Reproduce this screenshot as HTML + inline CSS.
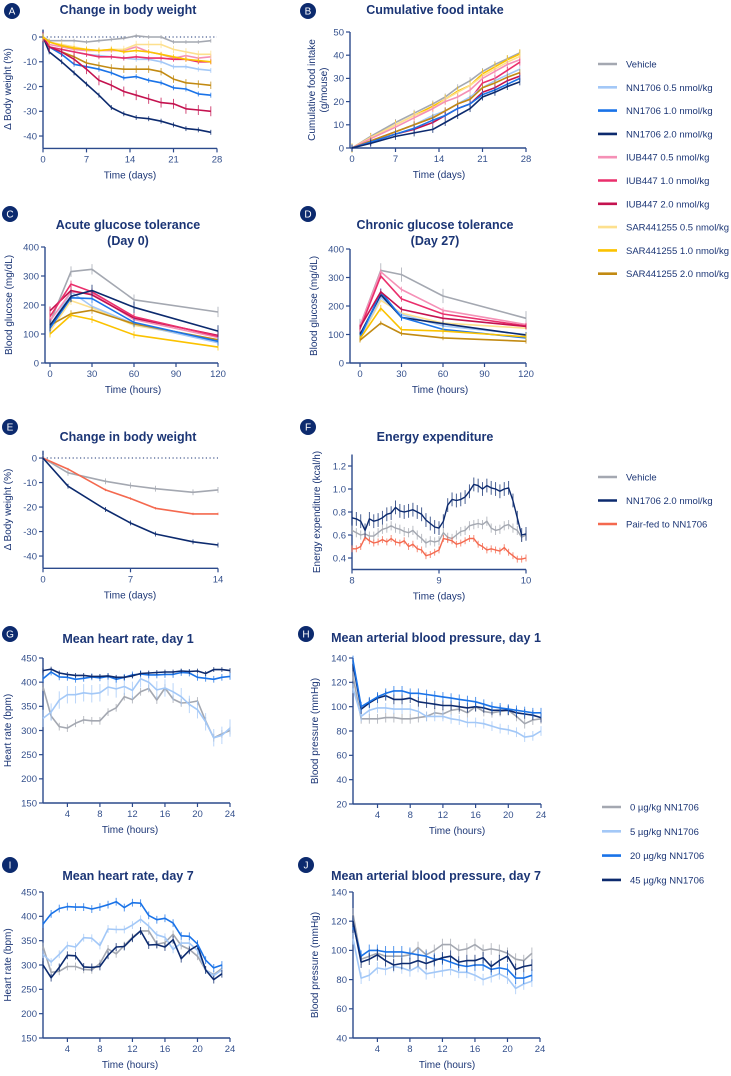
<!DOCTYPE html>
<html><head><meta charset="utf-8"><style>
body{margin:0;background:#fff;}
svg{display:block;font-family:"Liberation Sans",sans-serif;}
.title{font-weight:bold;font-size:12.5px;fill:#1b3575;}
.tick{font-size:9.5px;fill:#34508c;}
.albl{font-size:10px;fill:#1b3575;}
.leg{font-size:9.5px;fill:#1b3575;}
</style></head><body>
<svg id="fig" width="731" height="1076" viewBox="0 0 731 1076"></svg>
<script>
const cVeh='#a4a8b1',cNN05='#a3c8f7',cNN10='#1a73e8',cNN20='#0c2a6e',cI05='#f590b6',cI10='#ea2f6c',cI20='#c4124f',cS05='#fde08e',cS10='#fbc200',cS20='#c28a12',cPair='#f4694f';

const aDays=[0,1,3,5,7,9,11,13,15,17,19,21,23,25,27];
const aVeh=[0,-1.5,-1.5,-1.5,-2,-1.5,-1,-0.5,0.5,0,0,-2,-2,-2,-1.5];
const aNN05=[0,-4,-5,-6,-7,-7.5,-8,-8.5,-9,-9,-10,-12,-12,-13,-13.5];
const aNN10=[0,-4,-7,-11,-12,-13,-14.5,-16.5,-16,-17.5,-18.5,-20.5,-21,-23,-23.5];
const aNN20=[0,-6,-10,-14.5,-19,-23.5,-28.5,-31,-32.5,-33,-34,-35.5,-37,-37.5,-38.5];
const aI05=[0,-3,-4,-5,-5.5,-5.5,-5.5,-5.5,-4,-6,-7,-8.5,-7.5,-8.5,-8];
const aI10=[0,-4,-5,-6,-7,-8,-8,-8.5,-8,-8.5,-8.5,-9,-9,-10,-10];
const aI20=[0,-4,-6,-9,-13,-17.5,-19.5,-22,-23.5,-25,-26.5,-27,-29,-29.5,-30];
const aS05=[0,-2,-3,-4,-5,-5.5,-5,-5,-3,-3,-3,-5,-6,-7,-7];
const aS10=[0,-2,-3.5,-4.5,-5,-5.5,-5,-6,-5.5,-6,-7,-8,-9,-9.5,-10];
const aS20=[0,-4,-6,-8,-10.5,-11.5,-12.5,-13,-13,-13,-14,-17,-18.5,-19,-19.5];
const aTicksX=[0,7,14,21,28];
const aTicksY=[0,-10,-20,-30,-40];

const bDays=[0,3,7,10,13,15,17,19,21,23,25,27];
const bVeh=[0,5,11,15,19,22,26,29,33,36,38.5,41];
const bS10=[0,4.5,10,14,18,21,24.5,27,32,35,38,40.5];
const bS05=[0,4.5,10,14,17,21,24,27,31,34,37,39.5];
const bI05=[0,4,9,13,17,20,22,25,30,33,36,38];
const bI10=[0,3,7,10,13,16,19,21,28,30,33.5,37];
const bNN05=[0,3,7,10,14,16,19,22,26,29,31.5,34];
const bS20=[0,3,7,10,13,16,19,21,26,28,30.5,32.5];
const bI20=[0,2.5,6,8,11,14,17,19,24,26,29,31];
const bNN10=[0,2.5,6,8.5,12,14,17,19,23,25,27.5,30];
const bNN20=[0,2,5,6.5,8,11,14,17,22,24,26.5,28.5];
const bTicksY=[0,10,20,30,40,50];

const gttTimes=[0,15,30,60,120];
const cVehV=[140,315,323,218,176];
const cNN05V=[125,245,195,135,70];
const cNN10V=[120,225,222,140,75];
const cNN20V=[130,230,250,192,110];
const cI05V=[145,245,240,150,88];
const cI10V=[160,272,245,160,92];
const cI20V=[180,250,235,155,95];
const cS05V=[110,215,190,130,80];
const cS10V=[100,165,150,97,55];
const cS20V=[130,170,182,135,80];
const gttTicksX=[0,30,60,90,120];
const gttTicksY=[0,100,200,300,400];

const dVehV=[130,325,310,235,157];
const dNN05V=[90,230,170,130,100];
const dNN10V=[90,250,160,118,88];
const dNN20V=[100,240,160,138,98];
const dI05V=[130,320,258,185,135];
const dI10V=[120,305,225,172,130];
const dI20V=[125,250,188,157,128];
const dS05V=[85,220,175,140,122];
const dS10V=[85,192,117,112,92];
const dS20V=[80,140,103,88,76];

const eDays=[0,2,5,7,9,12,14];
const eVeh=[0,-6,-9.5,-11.2,-12.5,-14,-13];
const ePair=[0,-4.5,-13,-16.5,-20.5,-22.8,-22.8];
const eNN=[0,-11.5,-21,-26.5,-31,-34.2,-35.5];
const eTicksX=[0,7,14];

const fTimes=[8.00,8.05,8.10,8.15,8.20,8.25,8.30,8.35,8.40,8.45,8.50,8.55,8.60,8.65,8.70,8.75,8.80,8.85,8.90,8.95,9.00,9.05,9.10,9.15,9.20,9.25,9.30,9.35,9.40,9.45,9.50,9.55,9.60,9.65,9.70,9.75,9.80,9.85,9.90,9.95,10.00];
const fNN=[0.75,0.74,0.72,0.64,0.74,0.72,0.73,0.75,0.78,0.79,0.84,0.81,0.80,0.81,0.82,0.80,0.78,0.73,0.70,0.67,0.66,0.72,0.86,0.91,0.90,0.91,0.93,0.98,1.04,1.03,1.00,1.03,1.01,1.00,0.98,1.00,1.01,0.90,0.75,0.60,0.61];
const fVeh=[0.64,0.62,0.60,0.61,0.59,0.59,0.62,0.65,0.66,0.68,0.66,0.65,0.63,0.62,0.64,0.60,0.57,0.53,0.55,0.54,0.55,0.62,0.58,0.57,0.60,0.63,0.64,0.68,0.69,0.70,0.69,0.72,0.66,0.64,0.65,0.68,0.69,0.66,0.64,0.58,0.60];
const fPair=[0.48,0.48,0.50,0.58,0.55,0.53,0.54,0.56,0.54,0.57,0.54,0.53,0.55,0.50,0.52,0.48,0.47,0.42,0.43,0.45,0.47,0.57,0.56,0.55,0.52,0.53,0.55,0.57,0.57,0.52,0.50,0.47,0.48,0.47,0.46,0.49,0.45,0.42,0.39,0.39,0.40];
const fTicksX=[8,9,10];
const fTicksY=[0.4,0.6,0.8,1.0,1.2];

const hours24=[1,2,3,4,5,6,7,8,9,10,11,12,13,14,15,16,17,18,19,20,21,22,23,24];
const gNavy=[424,427,419,416,414,414,412,412,413,410,410,413,418,419,420,421,421,423,422,423,418,426,426,424];
const gBlue=[407,421,411,410,406,408,411,409,412,406,410,415,417,415,415,416,416,420,419,410,408,406,410,412];
const gLight=[325,338,363,374,374,378,376,378,390,386,391,383,407,400,384,388,380,370,354,343,318,285,290,305];
const gGrey=[390,330,308,305,315,322,320,320,338,347,370,364,380,387,363,388,365,357,358,361,320,285,293,300];
const hBlue=[138,100,104,108,111,113,113,111,111,110,109,108,107,106,105,104,102,100,99,98,97,96,95,95];
const hNavy=[135,98,103,107,109,106,106,107,104,103,102,101,101,100,99,100,99,97,97,97,95,94,93,91];
const hLight=[115,92,97,99,99,98,98,98,96,92,92,92,90,89,87,87,86,84,82,81,79,75,76,80];
const hGrey=[125,90,90,90,91,91,90,90,91,92,95,94,97,98,95,100,96,95,96,97,92,86,89,90];

const hours23=[1,2,3,4,5,6,7,8,9,10,11,12,13,14,15,16,17,18,19,20,21,22,23];
const iBlue=[384,405,416,420,419,419,415,419,424,430,418,428,427,402,393,396,386,360,359,343,310,294,300];
const iLight=[322,306,322,340,337,356,355,340,374,373,373,382,394,380,362,357,332,345,345,330,290,278,290];
const iGrey=[338,285,287,297,297,291,290,303,333,323,340,357,370,370,343,346,363,340,332,318,290,280,293];
const iNavy=[300,274,295,320,319,296,295,297,320,337,338,355,370,341,342,337,352,313,330,340,290,270,282];
const jBlue=[118,96,100,100,99,99,99,98,97,96,94,94,92,90,89,90,90,87,88,87,81,81,83];
const jLight=[108,81,83,88,87,89,88,86,89,84,85,86,87,85,85,83,80,82,84,81,74,77,79];
const jGrey=[125,94,96,98,96,96,96,97,102,97,100,104,104,100,101,104,100,101,100,98,94,93,98];
const jNavy=[120,92,94,97,93,90,91,91,93,91,93,95,96,92,93,93,95,89,93,96,87,89,90];
const hrTicksX=[4,8,12,16,20,24];
const hrTicksY=[150,200,250,300,350,400,450];
const bpTicksY1=[20,40,60,80,100,120,140];
const bpTicksY7=[40,60,80,100,120,140];

const legTopNames=['Vehicle','NN1706 0.5 nmol/kg','NN1706 1.0 nmol/kg','NN1706 2.0 nmol/kg','IUB447 0.5 nmol/kg','IUB447 1.0 nmol/kg','IUB447 2.0 nmol/kg','SAR441255 0.5 nmol/kg','SAR441255 1.0 nmol/kg','SAR441255 2.0 nmol/kg'];
const legTopCols=[cVeh,cNN05,cNN10,cNN20,cI05,cI10,cI20,cS05,cS10,cS20];
const legFNames=['Vehicle','NN1706 2.0 nmol/kg','Pair-fed to NN1706'];
const legFCols=[cVeh,cNN20,cPair];
const legBotNames=['0 µg/kg NN1706','5 µg/kg NN1706','20 µg/kg NN1706','45 µg/kg NN1706'];
const legBotCols=[cVeh,cNN05,cNN10,cNN20];

const NS='http://www.w3.org/2000/svg';
const svg=document.getElementById('fig');
const AX='#2c4a8c';
function mk(tag,attrs,parent){const e=document.createElementNS(NS,tag);for(const k in attrs)e.setAttribute(k,attrs[k]);(parent||svg).appendChild(e);return e;}
function lin(d0,d1,r0,r1){return v=>r0+(v-d0)*(r1-r0)/(d1-d0);}

function panel(p){
  const g=mk('g',{});
  
  
  const sx=lin(p.xd[0],p.xd[1],p.xr[0],p.xr[1]);
  const sy=lin(p.yd[0],p.yd[1],p.yr[0],p.yr[1]);
  const c=mk('circle',{cx:p.badge[0],cy:p.badge[1],r:8,fill:'#0c2a6e'},g);
  
  
  const bt=mk('text',{x:p.badge[0],y:p.badge[1]+3.5,'text-anchor':'middle','font-size':'10','fill':'#fff'},g);bt.textContent=p.letter;
  
  
  p.title.forEach((t,i)=>{const te=mk('text',{x:p.tx,y:p.ty+i*16,'text-anchor':'middle','class':'title'},g);te.textContent=t;
    
    });
  const yTop=sy(p.yd[1]),yBot=sy(p.yd[0]);
  const ya=mk('line',{x1:p.axX,x2:p.axX,y1:yTop,y2:yBot,stroke:AX,'stroke-width':1.4},g);
  
  
  const xa=mk('line',{x1:p.axX,x2:p.xr[1],y1:yBot,y2:yBot,stroke:AX,'stroke-width':1.4},g);
  
  
  p.yticks.forEach(v=>{const y=sy(v);mk('line',{x1:p.axX-4,x2:p.axX,y1:y,y2:y,stroke:AX,'stroke-width':1.2},g);
    const t=mk('text',{x:p.axX-6,y:y+3.3,'text-anchor':'end','class':'tick'},g);t.textContent=p.yfmt?p.yfmt(v):v;
    
    });
  p.xticks.forEach(v=>{const x=sx(v);mk('line',{x1:x,x2:x,y1:yBot,y2:yBot+4,stroke:AX,'stroke-width':1.2},g);
    const t=mk('text',{x:x,y:yBot+14,'text-anchor':'middle','class':'tick'},g);t.textContent=v;
    
    });
  const xl=mk('text',{x:p.xlx,y:yBot+30,'text-anchor':'middle','class':'albl'},g);xl.textContent=p.xlabel;
  
  
  p.ylabel.forEach((t,i)=>{const cy=(yTop+yBot)/2;const lx=p.ylx+i*12;
    const yl=mk('text',{x:lx,y:cy,'text-anchor':'middle','class':'albl',transform:`rotate(-90 ${lx} ${cy})`},g);yl.textContent=t;
    
    });
  if(p.zero){const y=sy(0);mk('line',{x1:p.axX,x2:p.xr[1],y1:y,y2:y,stroke:'#1b3575','stroke-width':1,'stroke-dasharray':'1.2,2.5'},g);}
  p.series.forEach(s=>{
    const pts=s.y.map((v,i)=>sx(s.x[i]).toFixed(1)+','+sy(v).toFixed(1)).join(' ');
    if(s.err){s.y.forEach((v,i)=>{const x=sx(s.x[i]);
      const e=mk('line',{x1:x,x2:x,y1:sy(v-s.err),y2:sy(v+s.err),stroke:s.c,'stroke-width':1,opacity:0.75},g);
      
      });}
    const pl=mk('polyline',{points:pts,fill:'none',stroke:s.c,'stroke-width':s.w||1.6,'stroke-linejoin':'round'},g);
    
    
  });
}
function legend(names,cols,x,y0,dy,name){
  const g=mk('g',{});
  
  
  names.forEach((n,i)=>{const y=y0+i*dy;
    const l=mk('line',{x1:x,x2:x+19,y1:y,y2:y,stroke:cols[i],'stroke-width':2.6},g);
    
    
    const t=mk('text',{x:x+28,y:y+3.5,'class':'leg'},g);t.textContent=n;
    
    });
}

const S=(n,x,y,c,err,w)=>({n,x,y,c,err,w});
panel({name:'panel-a-body-weight',letter:'A',badge:[12,11],title:['Change in body weight'],tx:128,ty:14,
  xd:[0,28],xr:[43,217],yd:[-45,3],yr:[148.4,29.6],axX:43,xticks:aTicksX,yticks:aTicksY,zero:true,
  xlabel:'Time (days)',xlx:130,ylabel:['Δ Body weight (%)'],ylx:11,
  series:[S('series-vehicle',aDays,aVeh,cVeh,0.8),S('series-nn05',aDays,aNN05,cNN05,1),S('series-sar20',aDays,aS20,cS20,1.5),
  S('series-nn10',aDays,aNN10,cNN10,1),S('series-nn20',aDays,aNN20,cNN20,1),S('series-iub05',aDays,aI05,cI05,1),
  S('series-iub10',aDays,aI10,cI10,1),S('series-iub20',aDays,aI20,cI20,2),S('series-sar05',aDays,aS05,cS05,1.5),S('series-sar10',aDays,aS10,cS10,1)]});
panel({name:'panel-b-food-intake',letter:'B',badge:[308,11],title:['Cumulative food intake'],tx:435,ty:14,
  xd:[0,28],xr:[352,526],yd:[0,50],yr:[148,32],axX:350,xticks:aTicksX,yticks:bTicksY,
  xlabel:'Time (days)',xlx:439,ylabel:['Cumulative food intake','(g/mouse)'],ylx:315,
  series:[S('series-vehicle',bDays,bVeh,cVeh,1.5),S('series-sar10',bDays,bS10,cS10,2),S('series-sar05',bDays,bS05,cS05,1.5),
  S('series-iub05',bDays,bI05,cI05,1.5),S('series-iub10',bDays,bI10,cI10,1.5),S('series-nn05',bDays,bNN05,cNN05,1.5),
  S('series-sar20',bDays,bS20,cS20,1.5),S('series-iub20',bDays,bI20,cI20,1.5),S('series-nn10',bDays,bNN10,cNN10,1.5),S('series-nn20',bDays,bNN20,cNN20,1.5)]});
panel({name:'panel-c-acute-gtt',letter:'C',badge:[10,214],title:['Acute glucose tolerance','(Day 0)'],tx:128,ty:229,
  xd:[0,120],xr:[50,218],yd:[0,400],yr:[363,247],axX:45,xticks:gttTicksX,yticks:gttTicksY,
  xlabel:'Time (hours)',xlx:133,ylabel:['Blood glucose (mg/dL)'],ylx:12,
  series:[S('series-vehicle',gttTimes,cVehV,cVeh,18),S('series-sar05',gttTimes,cS05V,cS05,15),S('series-nn05',gttTimes,cNN05V,cNN05,12),
  S('series-sar20',gttTimes,cS20V,cS20,12),S('series-sar10',gttTimes,cS10V,cS10,12),S('series-iub05',gttTimes,cI05V,cI05,12),
  S('series-iub20',gttTimes,cI20V,cI20,15),S('series-iub10',gttTimes,cI10V,cI10,12),S('series-nn10',gttTimes,cNN10V,cNN10,15),S('series-nn20',gttTimes,cNN20V,cNN20,20)]});
panel({name:'panel-d-chronic-gtt',letter:'D',badge:[308,214],title:['Chronic glucose tolerance','(Day 27)'],tx:435,ty:229,
  xd:[0,120],xr:[360,526],yd:[0,400],yr:[363,249],axX:350,xticks:gttTicksX,yticks:gttTicksY,
  xlabel:'Time (hours)',xlx:440,ylabel:['Blood glucose (mg/dL)'],ylx:317,
  series:[S('series-vehicle',gttTimes,dVehV,cVeh,25),S('series-sar05',gttTimes,dS05V,cS05,8),S('series-nn05',gttTimes,dNN05V,cNN05,10),
  S('series-nn20',gttTimes,dNN20V,cNN20,10),S('series-nn10',gttTimes,dNN10V,cNN10,12),S('series-iub05',gttTimes,dI05V,cI05,10),
  S('series-iub10',gttTimes,dI10V,cI10,10),S('series-iub20',gttTimes,dI20V,cI20,10),S('series-sar10',gttTimes,dS10V,cS10,12),S('series-sar20',gttTimes,dS20V,cS20,8)]});
panel({name:'panel-e-body-weight',letter:'E',badge:[10,427],title:['Change in body weight'],tx:128,ty:441,
  xd:[0,14],xr:[43,218],yd:[-45,3],yr:[568.3,450.7],axX:43,xticks:eTicksX,yticks:aTicksY,zero:true,
  xlabel:'Time (days)',xlx:130,ylabel:['Δ Body weight (%)'],ylx:11,
  series:[S('series-vehicle',eDays,eVeh,cVeh,1.2),S('series-pair-fed',eDays,ePair,cPair,0.5),S('series-nn20',eDays,eNN,cNN20,1)]});
panel({name:'panel-f-energy-expenditure',letter:'F',badge:[308,427],title:['Energy expenditure'],tx:435,ty:441,
  xd:[8,10],xr:[352,526],yd:[0.3,1.3],yr:[569.5,454.5],axX:352,xticks:fTicksX,yticks:fTicksY,yfmt:v=>v.toFixed(1),
  xlabel:'Time (days)',xlx:439,ylabel:['Energy expenditure (kcal/h)'],ylx:320,
  series:[S('series-vehicle',fTimes,fVeh,cVeh,0.04,1.4),S('series-pair-fed',fTimes,fPair,cPair,0.03,1.4),S('series-nn20',fTimes,fNN,cNN20,0.06,1.4)]});
panel({name:'panel-g-heart-rate-day1',letter:'G',badge:[10,634],title:['Mean heart rate, day 1'],tx:128,ty:643,
  xd:[1,24],xr:[43,230],yd:[150,450],yr:[803,658],axX:43,xticks:hrTicksX,yticks:hrTicksY,
  xlabel:'Time (hours)',xlx:130,ylabel:['Heart rate (bpm)'],ylx:11,
  series:[S('series-0ug',hours24,gGrey,cVeh,8),S('series-5ug',hours24,gLight,cNN05,18),S('series-20ug',hours24,gBlue,cNN10,7),S('series-45ug',hours24,gNavy,cNN20,5)]});
panel({name:'panel-h-blood-pressure-day1',letter:'H',badge:[306,634],title:['Mean arterial blood pressure, day 1'],tx:436,ty:642,
  xd:[1,24],xr:[353,541],yd:[20,140],yr:[804,658],axX:353,xticks:hrTicksX,yticks:bpTicksY1,
  xlabel:'Time (hours)',xlx:457,ylabel:['Blood pressure (mmHg)'],ylx:318,
  series:[S('series-0ug',hours24,hGrey,cVeh,4),S('series-5ug',hours24,hLight,cNN05,4),S('series-45ug',hours24,hNavy,cNN20,4),S('series-20ug',hours24,hBlue,cNN10,4)]});
panel({name:'panel-i-heart-rate-day7',letter:'I',badge:[10,865],title:['Mean heart rate, day 7'],tx:128,ty:880,
  xd:[1,24],xr:[43,230],yd:[150,450],yr:[1038,892],axX:43,xticks:hrTicksX,yticks:hrTicksY,
  xlabel:'Time (hours)',xlx:130,ylabel:['Heart rate (bpm)'],ylx:11,
  series:[S('series-0ug',hours23,iGrey,cVeh,8),S('series-5ug',hours23,iLight,cNN05,8),S('series-45ug',hours23,iNavy,cNN20,8),S('series-20ug',hours23,iBlue,cNN10,8)]});
panel({name:'panel-j-blood-pressure-day7',letter:'J',badge:[306,865],title:['Mean arterial blood pressure, day 7'],tx:436,ty:880,
  xd:[1,24],xr:[353,540],yd:[40,140],yr:[1038,892],axX:353,xticks:hrTicksX,yticks:bpTicksY7,
  xlabel:'Time (hours)',xlx:447,ylabel:['Blood pressure (mmHg)'],ylx:318,
  series:[S('series-0ug',hours23,jGrey,cVeh,4),S('series-5ug',hours23,jLight,cNN05,4),S('series-20ug',hours23,jBlue,cNN10,4),S('series-45ug',hours23,jNavy,cNN20,4)]});

legend(legTopNames,legTopCols,598,64,23.3,'legend-treatments');
legend(legFNames,legFCols,598,477,23.5,'legend-energy');
legend(legBotNames,legBotCols,602,807,24.3,'legend-doses');
</script>
</body></html>
